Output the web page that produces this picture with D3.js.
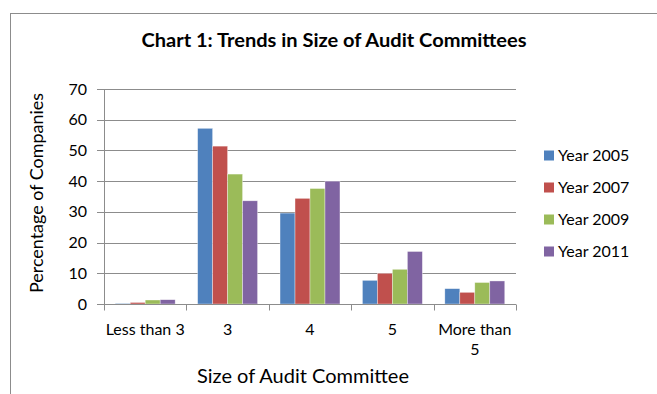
<!DOCTYPE html>
<html>
<head>
<meta charset="utf-8">
<script src="https://d3js.org/d3.v7.min.js"></script>
<style>
  body { margin: 0; background: #fff; }
  svg { display: block; font-family: Lato, "Open Sans", sans-serif; }
</style>
</head>
<body>
<script>
var categories = ["Less than 3", "3", "4", "5", "More than 5"];
var years = ["Year 2005", "Year 2007", "Year 2009", "Year 2011"];
var y2005 = [0.2, 57.2, 29.6, 7.7, 5.0];
var y2007 = [0.5, 51.4, 34.4, 10.0, 3.8];
var y2009 = [1.3, 42.3, 37.6, 11.3, 7.0];
var y2011 = [1.4, 33.6, 40.0, 17.1, 7.5];
var yTicks = [0, 10, 20, 30, 40, 50, 60, 70];
var colors = ["#4f81bd", "#c0504d", "#9bbb59", "#8064a2"];

var series = [y2005, y2007, y2009, y2011];
var rows = categories.map((c, i) => ({cat: c, vals: years.map((yr, j) => ({year: yr, v: series[j][i]}))}));

var width = 657, height = 394;
var plot = {left: 104, right: 516, top: 89, bottom: 304};

var svg = d3.select("body").append("svg")
    .attr("width", width)
    .attr("height", height);

// outer chart frame (runs off the right and bottom of the picture)
svg.append("rect")
    .attr("x", 10.5).attr("y", 13.5)
    .attr("width", 700).attr("height", 500)
    .attr("fill", "none")
    .attr("stroke", "#8c8c8c");

var x0 = d3.scaleBand().domain(categories).range([plot.left, plot.right]);
var x1 = d3.scaleBand().domain(years).range([0, x0.bandwidth()]).paddingInner(0).paddingOuter(0.75);
var y = d3.scaleLinear().domain([0, 70]).range([plot.bottom, plot.top]);
var color = d3.scaleOrdinal(years, colors);

// gridlines + left ticks
svg.append("g")
  .selectAll("line")
  .data(yTicks)
  .join("line")
    .attr("x1", plot.left - 7).attr("x2", plot.right)
    .attr("y1", d => Math.round(y(d)) + 0.5)
    .attr("y2", d => Math.round(y(d)) + 0.5)
    .attr("stroke", "#8c8c8c");

// y axis line
svg.append("line")
    .attr("x1", plot.left + 0.5).attr("x2", plot.left + 0.5)
    .attr("y1", y(70)).attr("y2", Math.round(y(0)) + 0.5)
    .attr("stroke", "#8c8c8c");

// y tick labels
svg.append("g")
    .attr("font-size", 16)
    .attr("text-anchor", "end")
    .attr("fill", "#000")
  .selectAll("text")
  .data(yTicks)
  .join("text")
    .attr("x", 87)
    .attr("y", d => y(d))
    .attr("dy", "0.35em")
    .text(d => d);

// bars
svg.append("g")
  .selectAll("g")
  .data(rows)
  .join("g")
    .attr("transform", d => `translate(${x0(d.cat)},0)`)
  .selectAll("rect")
  .data(d => d.vals)
  .join("rect")
    .attr("x", d => x1(d.year))
    .attr("y", d => y(d.v))
    .attr("width", x1.bandwidth())
    .attr("height", d => y(0) - y(d.v))
    .attr("fill", d => color(d.year))
    .attr("stroke", "#fff")
    .attr("stroke-opacity", 0.6)
    .attr("stroke-width", 0.6);

// x axis line and ticks
var xb = Math.round(y(0)) + 0.5;
svg.append("line")
    .attr("x1", plot.left).attr("x2", plot.right)
    .attr("y1", xb).attr("y2", xb)
    .attr("stroke", "#8c8c8c");
var bounds = categories.map(c => x0(c)).concat([plot.right]);
svg.append("g")
  .selectAll("line")
  .data(bounds)
  .join("line")
    .attr("x1", d => Math.round(d) + 0.5).attr("x2", d => Math.round(d) + 0.5)
    .attr("y1", xb).attr("y2", xb + 6)
    .attr("stroke", "#8c8c8c");

// x tick labels (wrapped like the original)
var xLabels = {"More than 5": ["More than", "5"]};
svg.append("g")
    .attr("font-size", 16)
    .attr("text-anchor", "middle")
  .selectAll("text")
  .data(categories)
  .join("text")
    .attr("x", d => x0(d) + x0.bandwidth() / 2)
    .attr("y", 335)
    .each(function(d) {
      var lines = xLabels[d] || [d];
      d3.select(this).selectAll("tspan")
        .data(lines)
        .join("tspan")
          .attr("x", x0(d) + x0.bandwidth() / 2)
          .attr("dy", (l, i) => i ? 20 : 0)
          .text(l => l);
    });

// axis titles
svg.append("text")
    .attr("x", 303).attr("y", 383)
    .attr("text-anchor", "middle")
    .attr("font-size", 19)
    .attr("textLength", 212)
    .attr("lengthAdjust", "spacingAndGlyphs")
    .text("Size of Audit Committee");

svg.append("text")
    .attr("transform", "translate(43,193) rotate(-90)")
    .attr("text-anchor", "middle")
    .attr("font-size", 18)
    .attr("textLength", 200)
    .attr("lengthAdjust", "spacingAndGlyphs")
    .text("Percentage of Companies");

// chart title
svg.append("text")
    .attr("x", 334).attr("y", 47)
    .attr("text-anchor", "middle")
    .attr("font-size", 19)
    .attr("font-weight", "bold")
    .attr("textLength", 385)
    .attr("lengthAdjust", "spacingAndGlyphs")
    .text("Chart 1: Trends in Size of Audit Committees");

// legend
var legend = svg.append("g")
    .attr("font-size", 16)
  .selectAll("g")
  .data(years)
  .join("g")
    .attr("transform", (d, i) => `translate(544,${155.5 + i * 32})`);
legend.append("rect")
    .attr("x", 0).attr("y", -5)
    .attr("width", 10).attr("height", 10)
    .attr("fill", d => color(d));
legend.append("text")
    .attr("x", 14)
    .attr("dy", "0.35em")
    .text(d => d);
</script>
</body>
</html>
